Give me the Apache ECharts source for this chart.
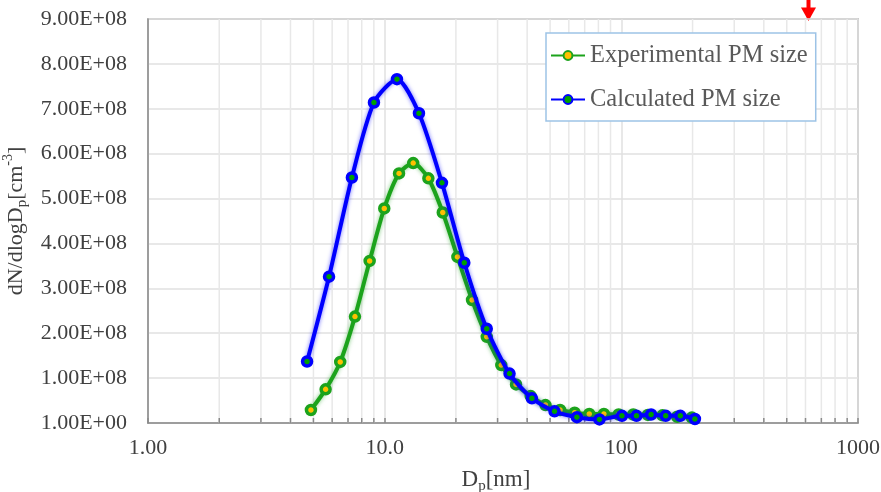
<!DOCTYPE html>
<html>
<head>
<meta charset="utf-8">
<script src="https://cdn.jsdelivr.net/npm/echarts@6/dist/echarts.min.js"></script>
<style>
  html, body { margin: 0; padding: 0; background: #ffffff; }
  #chart { width: 881px; height: 492px; }
</style>
</head>
<body>
<div id="chart"></div>
<script>
// Particle size distributions: diameter [nm] vs dN/dlogDp [cm^-3]
const expDiameter = [4.88, 5.63, 6.49, 7.49, 8.64, 9.96, 11.5, 13.2, 15.3, 17.6, 20.3, 23.4, 27.0, 31.1,
                     35.9, 41.4, 47.8, 55.1, 63.5, 73.2, 84.4, 97.4, 112.3, 129.5, 149.3, 172.2, 198.6];
const expConc = [0.29e8, 0.75e8, 1.36e8, 2.37e8, 3.61e8, 4.78e8, 5.56e8, 5.79e8, 5.45e8, 4.69e8, 3.70e8,
                 2.74e8, 1.92e8, 1.29e8, 0.86e8, 0.60e8, 0.40e8, 0.29e8, 0.23e8, 0.20e8, 0.20e8, 0.19e8,
                 0.19e8, 0.18e8, 0.17e8, 0.14e8, 0.12e8];

const calcDiameter = [4.70, 5.82, 7.27, 9.01, 11.27, 13.96, 17.46, 21.7, 27.0, 33.7, 41.9, 52.2, 64.9,
                      80.8, 100.6, 115.9, 133.6, 154.0, 177.5, 204.6];
const calcConc = [1.37e8, 3.26e8, 5.47e8, 7.14e8, 7.66e8, 6.90e8, 5.35e8, 3.57e8, 2.10e8, 1.10e8, 0.55e8,
                  0.26e8, 0.13e8, 0.08e8, 0.16e8, 0.16e8, 0.19e8, 0.16e8, 0.16e8, 0.09e8];

const seriesNames = ['Experimental PM size', 'Calculated PM size'];

// Axis tick labels
const xTickValues = [1, 10, 100, 1000];
const xTickLabels = ['1.00', '10.0', '100', '1000'];
const yTickLabels = ['1.00E+00', '1.00E+08', '2.00E+08', '3.00E+08', '4.00E+08',
                     '5.00E+08', '6.00E+08', '7.00E+08', '8.00E+08', '9.00E+08'];

// Minor positions of the log axis (2..9 in every decade)
const minorX = [];
[1, 10, 100].forEach(d => { for (let k = 2; k <= 9; k++) minorX.push(d * k); });

const serif = "'Liberation Serif', 'Times New Roman', serif";

const zip = (xs, ys) => xs.map((x, i) => [x, ys[i]]);

const chart = echarts.init(document.getElementById('chart'), null, { renderer: 'canvas' });

chart.setOption({
  animation: false,
  backgroundColor: '#ffffff',
  grid: {
    left: 148, right: 23, top: 19, bottom: 69,
    containLabel: false,
    outerBoundsMode: 'none',
    show: true, borderColor: '#a3a3a3', borderWidth: 1.5, backgroundColor: 'transparent'
  },
  legend: {
    orient: 'vertical',
    left: 546, top: 33,
    padding: [10, 8, 9, 4],
    itemGap: 19,
    itemWidth: 34, itemHeight: 11,
    backgroundColor: '#ffffff',
    borderColor: '#9dc3e6', borderWidth: 1.5, borderRadius: 0,
    textStyle: { fontFamily: serif, fontSize: 24.5, color: '#595959', lineHeight: 24 },
    data: seriesNames
  },
  xAxis: {
    type: 'log', logBase: 10, min: 1, max: 1000,
    axisLine: { show: true, lineStyle: { color: '#8a8a8a', width: 1.5 } },
    axisTick: { show: true, inside: true, length: 5, lineStyle: { color: '#8a8a8a', width: 1.5 } },
    splitLine: { show: true, lineStyle: { color: '#e0e0e0', width: 1.5 } },
    axisLabel: {
      fontFamily: serif, fontSize: 22, color: '#404040', margin: 14,
      formatter: v => {
        const i = xTickValues.findIndex(t => Math.abs(t - v) < 1e-6 * t);
        return i >= 0 ? xTickLabels[i] : '';
      }
    },
    name: 'D{sub|p}[nm]',
    nameLocation: 'middle',
    nameGap: 43,
    nameTextStyle: {
      fontFamily: serif, fontSize: 23, color: '#404040', lineHeight: 28, padding: [0, 14, 0, 0],
      rich: {
        sub: { fontFamily: serif, fontSize: 15, color: '#404040', verticalAlign: 'bottom', lineHeight: 15 }
      }
    }
  },
  yAxis: {
    type: 'value', min: 0, max: 9e8, interval: 1e8,
    axisLine: { show: true, lineStyle: { color: '#8a8a8a', width: 1.5 } },
    axisTick: { show: false },
    splitLine: { show: true, lineStyle: { color: '#e0e0e0', width: 1.5 } },
    axisLabel: {
      fontFamily: serif, fontSize: 22, color: '#404040', margin: 21,
      formatter: v => yTickLabels[Math.round(v / 1e8)]
    },
    name: 'dN/dlogD{sub|p}[cm{sup|-3}]',
    nameLocation: 'middle',
    nameRotate: 90,
    nameGap: 113,
    nameTextStyle: {
      fontFamily: serif, fontSize: 22, color: '#404040', lineHeight: 28,
      rich: {
        sub: { fontFamily: serif, fontSize: 15, color: '#404040', verticalAlign: 'bottom', lineHeight: 15 },
        sup: { fontFamily: serif, fontSize: 14, color: '#404040', verticalAlign: 'top', lineHeight: 14 }
      }
    }
  },
  series: [
    {
      // minor gridlines and inside ticks of the log axis
      type: 'custom',
      silent: true,
      z: 1,
      clip: false,
      data: minorX.map(v => [v, 0]),
      encode: { x: 0, y: 1 },
      renderItem: (params, api) => {
        const bottom = api.coord([api.value(0), 0]);
        const top = api.coord([api.value(0), 9e8]);
        return {
          type: 'group',
          children: [
            { type: 'line', shape: { x1: bottom[0], y1: top[1], x2: bottom[0], y2: bottom[1] },
              style: { stroke: '#e8e8e8', lineWidth: 1.5 } },
            { type: 'line', shape: { x1: bottom[0], y1: bottom[1], x2: bottom[0], y2: bottom[1] - 5 },
              style: { stroke: '#8a8a8a', lineWidth: 1.5 } }
          ]
        };
      }
    },
    {
      name: seriesNames[0],
      type: 'line',
      z: 3,
      smooth: 0.25,
      data: zip(expDiameter, expConc),
      symbol: 'circle',
      symbolSize: 9,
      lineStyle: { color: '#1ca31c', width: 4, shadowColor: 'rgba(28,163,28,0.55)', shadowBlur: 4 },
      itemStyle: { color: '#ffc000', borderColor: '#1ca31c', borderWidth: 3.5 }
    },
    {
      name: seriesNames[1],
      type: 'line',
      z: 4,
      smooth: 0.25,
      data: zip(calcDiameter, calcConc),
      symbol: 'circle',
      symbolSize: 9,
      lineStyle: { color: '#0000ff', width: 4, shadowColor: 'rgba(0,0,255,0.55)', shadowBlur: 4 },
      itemStyle: { color: '#00a000', borderColor: '#0000ff', borderWidth: 3.5 }
    }
  ],
  graphic: [
    {
      // red marker arrow above the plot
      type: 'group',
      z: 100,
      children: [
        { type: 'rect', shape: { x: 806.5, y: 0, width: 4, height: 9 }, style: { fill: '#ff0000' } },
        { type: 'polygon', shape: { points: [[801, 7.5], [816, 7.5], [808.5, 21]] }, style: { fill: '#ff0000' } }
      ]
    }
  ]
});
</script>
</body>
</html>
